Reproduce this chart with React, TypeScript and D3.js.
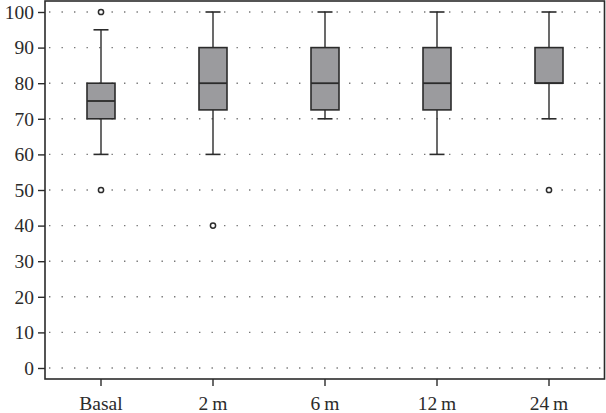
import React, { useEffect, useRef } from "react";
import * as d3 from "d3";

const categories = ["Basal", "2\u2009m", "6\u2009m", "12\u2009m", "24\u2009m"];
const lowWhisker = [60, 60, 70, 60, 70];
const q1 = [70, 72.5, 72.5, 72.5, 80];
const medians = [75, 80, 80, 80, 80];
const q3 = [80, 90, 90, 90, 90];
const highWhisker = [95, 100, 100, 100, 100];
const outliers = [[100, 50], [40], [], [], [50]];
const yTicks = [0, 10, 20, 30, 40, 50, 60, 70, 80, 90, 100];

const App = () => {
  const svgRef = useRef<SVGSVGElement>(null);

  const width = 606;
  const height = 413;
  const margin = { top: 1, right: 1, bottom: 34, left: 45 };

  useEffect(() => {
    const svg = d3.select(svgRef.current);
    svg.selectAll("*").remove();

    const x = d3
      .scaleBand()
      .domain(categories)
      .range([margin.left, width - margin.right])
      .padding(0);
    const y = d3
      .scaleLinear()
      .domain([0, 100])
      .range([368, 12]);

    const font = "'Liberation Serif', 'DejaVu Serif', serif";
    const ink = "#2b2b2b";

    // dotted grid
    svg
      .append("g")
      .selectAll("line")
      .data(yTicks)
      .join("line")
      .attr("x1", margin.left + 4)
      .attr("x2", width - margin.right - 2)
      .attr("y1", (d) => y(d))
      .attr("y2", (d) => y(d))
      .attr("stroke", "#777")
      .attr("stroke-width", 1.4)
      .attr("stroke-dasharray", "1.4,11.1");

    // frame
    svg
      .append("rect")
      .attr("x", margin.left)
      .attr("y", margin.top)
      .attr("width", width - margin.left - margin.right - 0.5)
      .attr("height", height - margin.bottom - margin.top)
      .attr("fill", "none")
      .attr("stroke", ink)
      .attr("stroke-width", 1.6);

    // y axis
    const yAxis = d3.axisLeft(y).tickValues(yTicks).tickSize(7).tickPadding(4);
    const yg = svg.append("g").attr("transform", `translate(${margin.left},0)`).call(yAxis);
    yg.select(".domain").remove();
    yg.selectAll(".tick line").attr("stroke", ink).attr("stroke-width", 1.4);
    yg.selectAll(".tick text")
      .attr("font-family", font)
      .attr("font-size", 19.5)
      .attr("fill", ink);

    // x axis
    const xAxis = d3.axisBottom(x).tickSize(7).tickPadding(10);
    const xg = svg
      .append("g")
      .attr("transform", `translate(0,${height - margin.bottom})`)
      .call(xAxis);
    xg.select(".domain").remove();
    xg.selectAll(".tick line").attr("stroke", ink).attr("stroke-width", 1.4);
    xg.selectAll(".tick text")
      .attr("font-family", font)
      .attr("font-size", 19.5)
      .attr("fill", ink);

    const boxW = 28;
    const capW = 15;

    categories.forEach((c, i) => {
      const cx = x(c)! + x.bandwidth() / 2;
      const g = svg.append("g");

      // whiskers
      g.append("line")
        .attr("x1", cx).attr("x2", cx)
        .attr("y1", y(highWhisker[i])).attr("y2", y(q3[i]))
        .attr("stroke", ink).attr("stroke-width", 1.4);
      g.append("line")
        .attr("x1", cx).attr("x2", cx)
        .attr("y1", y(q1[i])).attr("y2", y(lowWhisker[i]))
        .attr("stroke", ink).attr("stroke-width", 1.4);
      [highWhisker[i], lowWhisker[i]].forEach((v) => {
        g.append("line")
          .attr("x1", cx - capW / 2).attr("x2", cx + capW / 2)
          .attr("y1", y(v)).attr("y2", y(v))
          .attr("stroke", ink).attr("stroke-width", 1.6);
      });

      // box
      g.append("rect")
        .attr("x", cx - boxW / 2)
        .attr("y", y(q3[i]))
        .attr("width", boxW)
        .attr("height", y(q1[i]) - y(q3[i]))
        .attr("fill", "#9b9b9e")
        .attr("stroke", ink)
        .attr("stroke-width", 1.6);

      g.append("line")
        .attr("x1", cx - boxW / 2).attr("x2", cx + boxW / 2)
        .attr("y1", y(medians[i])).attr("y2", y(medians[i]))
        .attr("stroke", ink).attr("stroke-width", 1.8);

      g.selectAll("circle")
        .data(outliers[i])
        .join("circle")
        .attr("cx", cx)
        .attr("cy", (d) => y(d))
        .attr("r", 2.6)
        .attr("fill", "white")
        .attr("stroke", ink)
        .attr("stroke-width", 1.5);
    });
  }, []);

  return (
    <div style={{ position: "absolute", left: 0, top: 0 }}>
      <svg ref={svgRef} width={width} height={height} style={{ display: "block", background: "white" }}></svg>
    </div>
  );
};

export default App;
